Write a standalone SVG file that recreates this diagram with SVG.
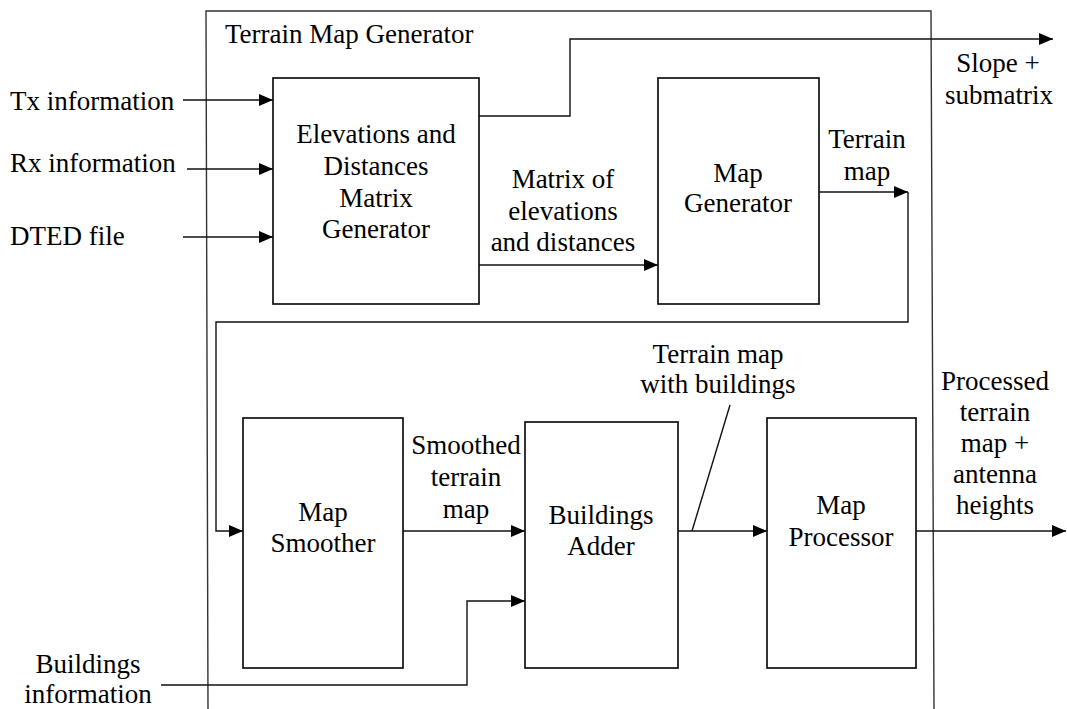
<svg xmlns="http://www.w3.org/2000/svg" width="1067" height="709" viewBox="0 0 1067 709">
  <defs>
    <marker id="arrow" markerUnits="userSpaceOnUse" markerWidth="14" markerHeight="12" refX="14" refY="6" orient="auto">
      <path d="M0,0 L14,6 L0,12 z" fill="#000"/>
    </marker>
    <style>
      .frame { fill: none; stroke: #333; stroke-width: 1.4; }
      .box { fill: #fff; stroke: #111; stroke-width: 1.7; }
      .wire { fill: none; stroke: #111; stroke-width: 1.4; }
      .arr { marker-end: url(#arrow); }
      .c { text-anchor: middle; }
    </style>
  </defs>
  <rect width="1067" height="709" fill="#fff"/>

  <g font-family="'Liberation Serif', 'Times New Roman', 'DejaVu Serif', serif" font-size="27" fill="#000">

  <!-- enclosing block -->
  <g id="terrain-map-generator">
    <path class="frame" d="M208,709 L206,11 L931,11 L934,709"/>
    <text x="225" y="43">Terrain Map Generator</text>
  </g>

  <!-- connectors -->
  <g id="connectors">
    <path class="wire arr" d="M183,100 H273"/>
    <path class="wire arr" d="M187,169 H273"/>
    <path class="wire arr" d="M183,237 H273"/>
    <path class="wire arr" d="M479,116 H570 V39 H1053"/>
    <path class="wire arr" d="M479,265 H658"/>
    <path class="wire arr" d="M819,192 H908"/>
    <path class="wire arr" d="M908,192 V322 H216 V531 H243"/>
    <path class="wire arr" d="M403,531 H525"/>
    <path class="wire arr" d="M161,685 H467 V601 H525"/>
    <path class="wire arr" d="M678,531 H767"/>
    <path class="wire" d="M692,531 L730,405"/>
    <path class="wire arr" d="M916,531 H1066"/>
  </g>

  <!-- external inputs / outputs -->
  <g id="inputs">
    <text x="10" y="110">Tx information</text>
    <text x="10" y="172">Rx information</text>
    <text x="10" y="245">DTED file</text>
    <text class="c" x="88" y="673">Buildings</text>
    <text class="c" x="88" y="703">information</text>
  </g>

  <!-- flow labels -->
  <g id="labels">
    <text class="c" x="998" y="72">Slope +</text>
    <text class="c" x="999" y="104">submatrix</text>
    <text class="c" x="563" y="188">Matrix of</text>
    <text class="c" x="563" y="220">elevations</text>
    <text class="c" x="563" y="251">and distances</text>
    <text class="c" x="867" y="148">Terrain</text>
    <text class="c" x="867" y="180">map</text>
    <text class="c" x="466" y="454">Smoothed</text>
    <text class="c" x="466" y="486">terrain</text>
    <text class="c" x="466" y="518">map</text>
    <text class="c" x="718" y="363">Terrain map</text>
    <text class="c" x="718" y="393">with buildings</text>
    <text class="c" x="995" y="390">Processed</text>
    <text class="c" x="995" y="421">terrain</text>
    <text class="c" x="995" y="452">map +</text>
    <text class="c" x="995" y="483">antenna</text>
    <text class="c" x="995" y="514">heights</text>
  </g>

  <g id="matrix-generator">
    <rect class="box" x="273" y="78" width="206" height="226"/>
    <text class="c" x="376" y="143">Elevations and</text>
    <text class="c" x="376" y="175">Distances</text>
    <text class="c" x="376" y="207">Matrix</text>
    <text class="c" x="376" y="238">Generator</text>
  </g>

  <g id="map-generator">
    <rect class="box" x="658" y="78" width="161" height="226"/>
    <text class="c" x="738" y="182">Map</text>
    <text class="c" x="738" y="212">Generator</text>
  </g>

  <g id="map-smoother">
    <rect class="box" x="243" y="418" width="160" height="250"/>
    <text class="c" x="323" y="521">Map</text>
    <text class="c" x="323" y="552">Smoother</text>
  </g>

  <g id="buildings-adder">
    <rect class="box" x="525" y="422" width="153" height="246"/>
    <text class="c" x="601" y="524">Buildings</text>
    <text class="c" x="601" y="555">Adder</text>
  </g>

  <g id="map-processor">
    <rect class="box" x="767" y="418" width="149" height="250"/>
    <text class="c" x="841" y="514">Map</text>
    <text class="c" x="841" y="546">Processor</text>
  </g>

  </g>
</svg>
